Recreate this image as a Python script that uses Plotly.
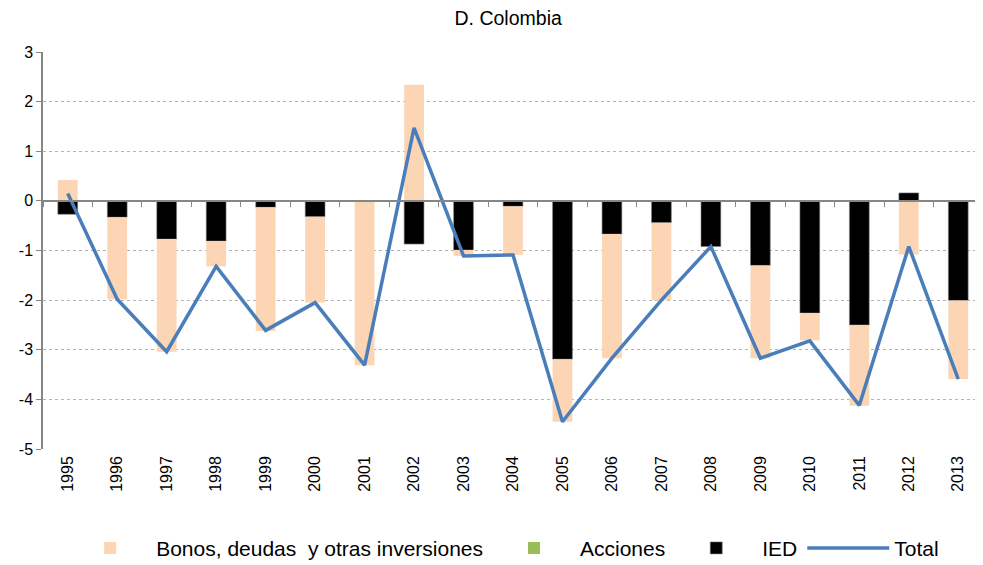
import plotly.graph_objects as go

years = [str(y) for y in range(1995, 2014)]
bonos = [0.42, -1.65, -2.27, -0.51, -2.49, -1.73, -3.31, 2.34, -0.12, -0.98,
         -1.26, -2.50, -1.56, 0.00, -1.87, -0.55, -1.63, -1.08, -1.58]
acciones = [0.0] * 19
ied = [-0.27, -0.33, -0.77, -0.81, -0.13, -0.32, 0.0, -0.87, -0.99, -0.11,
       -3.19, -0.67, -0.44, -0.92, -1.30, -2.26, -2.50, 0.16, -2.01]
total = [0.15, -1.98, -3.04, -1.32, -2.61, -2.05, -3.31, 1.47, -1.11, -1.09,
         -4.45, -3.17, -2.00, -0.92, -3.17, -2.82, -4.12, -0.92, -3.59]
yticks = [3, 2, 1, 0, -1, -2, -3, -4, -5]

FONT = "Liberation Sans, Arial, sans-serif"

fig = go.Figure()
fig.add_trace(go.Bar(x=years, y=ied, name="IED", marker=dict(color="#000000", line=dict(color="#7f7f7f", width=0.6)),
                     legendrank=3))
fig.add_trace(go.Bar(x=years, y=acciones, name="Acciones", marker=dict(color="#9bbb59", line=dict(width=0)),
                     legendrank=2))
fig.add_trace(go.Bar(x=years, y=bonos, name="Bonos, deudas&nbsp; y otras inversiones",
                     marker=dict(color="#fcd5b5", line=dict(width=0)), legendrank=1))
fig.add_trace(go.Scatter(x=years, y=total, name="Total", mode="lines",
                         line=dict(color="#4a7ebb", width=3.5), legendrank=4))
# invisible trace to carry the zero-line axis with ticks
fig.add_trace(go.Scatter(x=years, y=[None] * len(years), xaxis="x2", showlegend=False,
                         hoverinfo="skip", mode="lines"))

# page body adds an 8px offset, so the figure is sized to fit the window
fig.update_layout(
    width=975, height=557,
    paper_bgcolor="white", plot_bgcolor="white",
    barmode="relative", bargap=0.6,
    margin=dict(l=35, r=0, t=44, b=116, autoexpand=False),
    font=dict(family=FONT, size=16, color="#000000"),
    title=dict(text="D. Colombia", x=0.513, xanchor="center", y=0.982, yanchor="middle",
               font=dict(family=FONT, size=19.5, color="#000000")),
    xaxis=dict(type="category", tickangle=-90, showline=False, ticks="", showgrid=False,
               tickfont=dict(size=16), ticklabelstandoff=3),
    xaxis2=dict(type="category", overlaying="x", matches="x", anchor="free", position=0.625,
                side="bottom", showline=True, linecolor="#868686", linewidth=1.5,
                ticks="outside", ticklen=5, tickcolor="#868686", tickson="boundaries",
                showticklabels=False, showgrid=False),
    yaxis=dict(range=[-5, 3], tickvals=yticks, ticktext=[str(v) for v in yticks],
               showgrid=True, gridcolor="#b3b3b3", griddash="dot", gridwidth=1,
               showline=True, linecolor="#868686", linewidth=1.5,
               ticks="outside", ticklen=5, tickcolor="#868686",
               zeroline=False, tickfont=dict(size=16)),
    legend=dict(orientation="h", x=0.4906, xanchor="center", y=-0.25, yanchor="middle",
                font=dict(size=21), itemwidth=82, traceorder="normal"),
)

fig.write_html("out.html")
